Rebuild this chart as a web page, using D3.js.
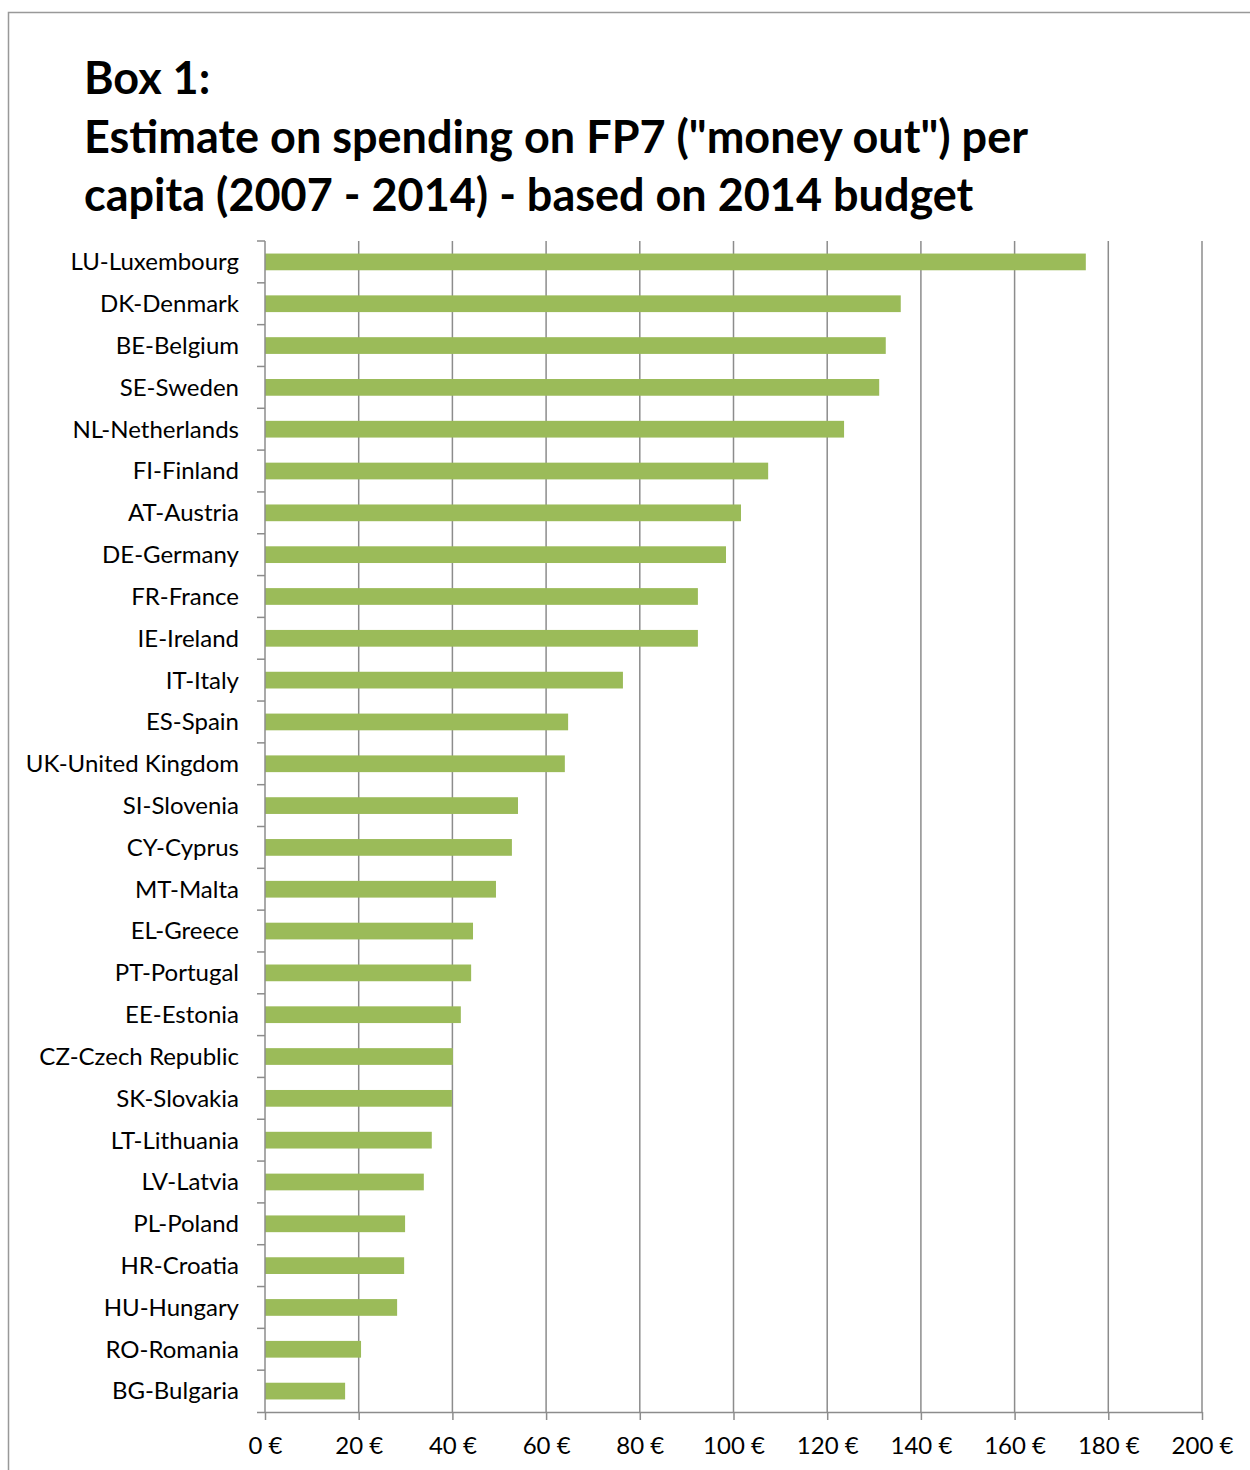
<!DOCTYPE html>
<html>
<head>
<meta charset="utf-8">
<script src="https://cdn.jsdelivr.net/npm/d3@7"></script>
<style>
  body { margin: 0; background: #fff; }
  text { font-family: Lato, "Open Sans", sans-serif; }
</style>
</head>
<body>
<div class="canvas"></div>
<script>
// data
const countries = [
  "LU-Luxembourg", "DK-Denmark", "BE-Belgium", "SE-Sweden", "NL-Netherlands",
  "FI-Finland", "AT-Austria", "DE-Germany", "FR-France", "IE-Ireland",
  "IT-Italy", "ES-Spain", "UK-United Kingdom", "SI-Slovenia", "CY-Cyprus",
  "MT-Malta", "EL-Greece", "PT-Portugal", "EE-Estonia", "CZ-Czech Republic",
  "SK-Slovakia", "LT-Lithuania", "LV-Latvia", "PL-Poland", "HR-Croatia",
  "HU-Hungary", "RO-Romania", "BG-Bulgaria"
];
const spending = [
  175.2, 135.7, 132.5, 131.1, 123.6,
  107.4, 101.6, 98.4, 92.4, 92.4,
  76.4, 64.7, 64.0, 54.0, 52.7,
  49.3, 44.4, 44.0, 41.8, 40.1,
  39.9, 35.6, 33.9, 29.9, 29.7,
  28.2, 20.5, 17.1
];
const xTicks = [0, 20, 40, 60, 80, 100, 120, 140, 160, 180, 200];
const titleLines = [
  "Box 1:",
  "Estimate on spending on FP7 (\"money out\") per",
  "capita (2007 - 2014) - based on 2014 budget"
];

const dims = { width: 1250, height: 1470 };
const plot = { left: 265, right: 1202, top: 241, bottom: 1412 };
const gridColor = "#8c8c8c";

const svg = d3.select(".canvas")
  .append("svg")
  .attr("width", dims.width)
  .attr("height", dims.height);

// outer frame (right and bottom edges run off the picture)
svg.append("rect")
  .attr("x", 8.5).attr("y", 12.5)
  .attr("width", dims.width + 20).attr("height", dims.height + 20)
  .attr("fill", "none")
  .attr("stroke", "#999")
  .attr("stroke-width", 1.5);

// title
svg.append("g")
  .selectAll("text")
  .data(titleLines)
  .enter().append("text")
  .attr("x", 84)
  .attr("y", (d, i) => 94 + i * 58.5)
  .attr("font-size", 45)
  .attr("font-weight", "bold")
  .attr("fill", "#000")
  .text(d => d);

const x = d3.scaleLinear()
  .domain([0, 200])
  .range([plot.left, plot.right]);

const y = d3.scaleBand()
  .domain(countries)
  .range([plot.top, plot.bottom])
  .paddingInner(0.6)
  .paddingOuter(0.3);

// vertical gridlines
svg.append("g")
  .selectAll("line")
  .data(xTicks.slice(1))
  .enter().append("line")
  .attr("x1", d => x(d)).attr("x2", d => x(d))
  .attr("y1", plot.top).attr("y2", plot.bottom)
  .attr("stroke", gridColor)
  .attr("stroke-width", 1.5);

// bars
svg.append("g")
  .selectAll("rect")
  .data(spending)
  .enter().append("rect")
  .attr("x", x(0))
  .attr("y", (d, i) => y(countries[i]))
  .attr("width", d => x(d) - x(0))
  .attr("height", y.bandwidth())
  .attr("fill", "#9bbb59");

// bottom axis
const xAxis = d3.axisBottom(x)
  .tickValues(xTicks)
  .tickSize(8)
  .tickSizeOuter(0)
  .tickPadding(17)
  .tickFormat(d => d + " €");

const xAxisGroup = svg.append("g")
  .attr("transform", `translate(0,${plot.bottom})`)
  .call(xAxis);

xAxisGroup.select(".domain")
  .attr("d", `M${plot.left - 8},0.5H${plot.right}`)
  .attr("stroke", gridColor)
  .attr("stroke-width", 1.5);
xAxisGroup.selectAll(".tick line")
  .attr("stroke", gridColor)
  .attr("stroke-width", 1.5);
xAxisGroup.selectAll("text")
  .attr("font-size", 24)
  .attr("fill", "#000")
  .attr("font-family", "Lato, sans-serif");

// left category axis: line with ticks between bands
const yAxisGroup = svg.append("g");
yAxisGroup.append("line")
  .attr("x1", plot.left).attr("x2", plot.left)
  .attr("y1", plot.top).attr("y2", plot.bottom)
  .attr("stroke", gridColor)
  .attr("stroke-width", 1.5);

const step = y.step();
yAxisGroup.selectAll(".sep")
  .data(countries)
  .enter().append("line")
  .attr("class", "sep")
  .attr("x1", plot.left - 8).attr("x2", plot.left)
  .attr("y1", (d, i) => plot.top + i * step)
  .attr("y2", (d, i) => plot.top + i * step)
  .attr("stroke", gridColor)
  .attr("stroke-width", 1.5);

yAxisGroup.selectAll("text")
  .data(countries)
  .enter().append("text")
  .attr("x", 239)
  .attr("y", d => y(d) + y.bandwidth() / 2)
  .attr("dy", "0.35em")
  .attr("text-anchor", "end")
  .attr("font-size", 24)
  .attr("fill", "#000")
  .text(d => d);
</script>
</body>
</html>
